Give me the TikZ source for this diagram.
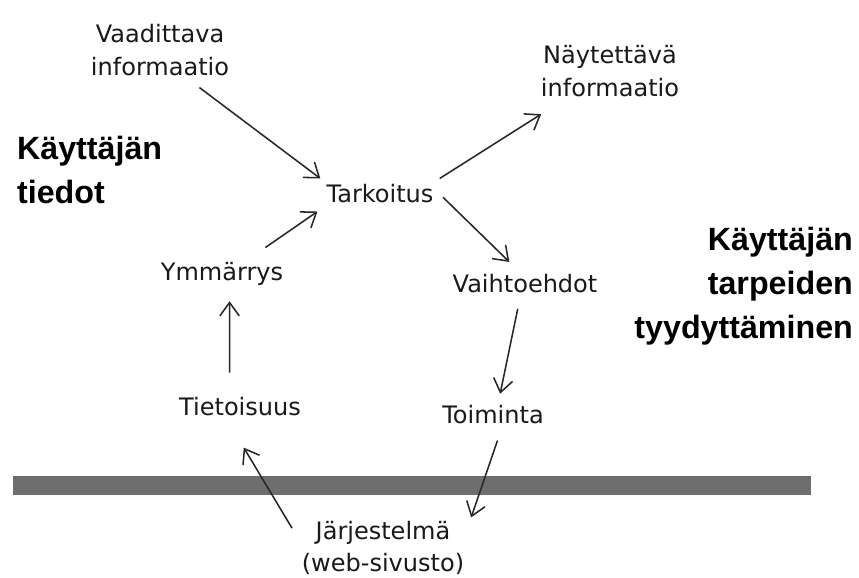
\documentclass[tikz,border=0pt]{standalone}
\usepackage{fontspec}
\setmainfont{DejaVu Sans}
\newfontfamily\titlefont{Liberation Sans}
\usepackage{tikz}
\usetikzlibrary{arrows.meta}
\definecolor{bargray}{HTML}{6E6E6E}

\begin{document}
\begin{tikzpicture}[x=0.03cm, y=-0.03cm,
        lbl/.style={font=\fontsize{20.5}{28}\selectfont, align=center, text=black!90, inner sep=0.18cm},
        title/.style={font=\titlefont\bfseries\fontsize{27.5}{37.5}\selectfont, text=black},
        arrow/.style={-{Straight Barb[length=0.4cm, width=0.58cm]}, line width=1.3pt, draw=black!85}
    ]

    \fill[white] (0,0) rectangle (859,577);
    \useasboundingbox (0,0) rectangle (859,577);

    % --- Interface bar ---
    \fill[bargray] (13,476) rectangle (811,495);

    % --- Side titles ---
    \node[title, anchor=west, align=left] (tiedot) at (13,170) {Käyttäjän\\tiedot};
    \node[title, anchor=east, align=right] (tarpeet) at (857,286) {Käyttäjän\\tarpeiden\\tyydyttäminen};

    % --- Cycle ---
    \node[lbl] (vaad) at (160,50) {Vaadittava\\informaatio};
    \node[lbl] (nayt) at (610,71) {Näytettävä\\informaatio};
    \node[lbl] (tark) at (380,194) {Tarkoitus};
    \node[lbl] (ymm) at (222,274) {Ymmärrys};
    \node[lbl] (vaih) at (525,284) {Vaihtoehdot};
    \node[lbl] (tiet) at (240,407) {Tietoisuus};
    \node[lbl] (toim) at (493,415) {Toiminta};
    \node[lbl] (jarj) at (383,548) {Järjestelmä\\(web-sivusto)};

    \draw[arrow, shorten <=8pt] (vaad.-45) -- (tark.north west);
    \draw[arrow, shorten <=13pt, shorten >=3pt] (ymm.30) -- (tark.south west);
    \draw[arrow, shorten >=18pt] (tark.north east) -- (nayt.-148);
    \draw[arrow, shorten <=4pt, shorten >=8pt] (tark.east) -- (vaih.120);
    \draw[arrow, shorten <=8pt, shorten >=5pt] (vaih.-109) -- (toim.69);
    \draw[arrow, shorten <=9pt, shorten >=2pt] (toim.-63) -- (jarj.18);
    \draw[arrow, shorten <=6pt, shorten >=25pt] (jarj.171) -- (tiet.-126);
    \draw[arrow, shorten <=16pt, shorten >=8pt] (tiet.124) -- (ymm.-67);

\end{tikzpicture}
\end{document}
